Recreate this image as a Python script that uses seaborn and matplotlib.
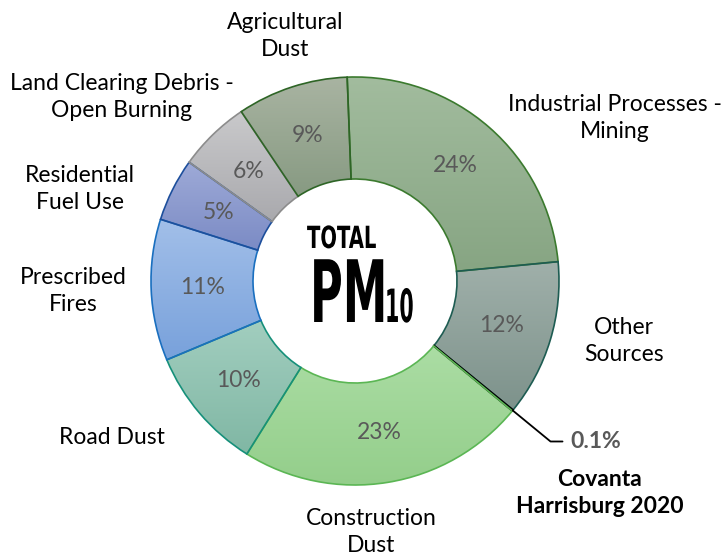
import matplotlib
matplotlib.use("Agg")
import matplotlib.pyplot as plt
import numpy as np
import seaborn as sns
from matplotlib.colors import LinearSegmentedColormap
from matplotlib.patheffects import AbstractPathEffect
from matplotlib.transforms import Affine2D

# --- data -------------------------------------------------------------------
sources = [
    "Industrial Processes -\nMining",
    "Other\nSources",
    "Covanta\nHarrisburg 2020",
    "Construction\nDust",
    "Road Dust",
    "Prescribed\nFires",
    "Residential\nFuel Use",
    "Land Clearing Debris -\nOpen Burning",
    "Agricultural\nDust",
]
shares = [24.1, 12.4, 0.1, 22.9, 9.8, 11.2, 5.0, 5.7, 8.8]

top_colors = ["#a2bc9e", "#a0b0aa", "#000000", "#abdda4", "#a2cebf",
              "#a2bfe9", "#9eaad7", "#c9c9cb", "#a9b4a2"]
bottom_colors = ["#87a583", "#7d928b", "#000000", "#94ce8b", "#80b7a4",
                 "#78a1db", "#7b8bc5", "#a9a9ad", "#879a82"]
edge_colors = ["#3b7a2e", "#1d5c52", "#000000", "#5bb654", "#16907a",
               "#1a6fbf", "#1d4f9c", "#8c8c8c", "#2e6526"]


class Condense(AbstractPathEffect):
    """Squeeze text horizontally about its anchor (no condensed font installed)."""

    def __init__(self, sx):
        super().__init__()
        self.sx = sx

    def draw_path(self, renderer, gc, tpath, affine, rgbFace=None):
        tx, ty = affine.transform((0, 0))
        squeeze = Affine2D().translate(-tx, -ty).scale(self.sx, 1).translate(tx, ty)
        renderer.draw_path(gc, tpath, affine + squeeze, rgbFace)


sns.set_theme(style="white")
plt.rcParams["font.family"] = ["Lato", "DejaVu Sans"]

fig = plt.figure(figsize=(7.26, 5.58), dpi=100)
ax = fig.add_axes([0, 0, 1, 1])

cx, cy, R = 355, 277, 204
wedges, _ = ax.pie(
    shares, center=(cx, cy), radius=R, startangle=92.2, counterclock=False,
    colors=["none"] * len(shares),
    wedgeprops=dict(width=R * 0.5, linewidth=1.2, zorder=3),
)

grad = np.linspace(0, 1, 256).reshape(-1, 1)
for w, top, bot, ec in zip(wedges, top_colors, bottom_colors, edge_colors):
    w.set_edgecolor(ec)
    ext = w.get_path().get_extents()
    cmap = LinearSegmentedColormap.from_list("g", [top, bot])
    im = ax.imshow(grad, cmap=cmap, extent=[ext.x0, ext.x1, ext.y0, ext.y1],
                   origin="upper", aspect="auto", zorder=2, interpolation="bilinear")
    im.set_clip_path(w)

# percentage labels inside the ring
for w, v in zip(wedges, shares):
    if v < 1:
        continue
    a = np.deg2rad((w.theta1 + w.theta2) / 2)
    ax.text(cx + 0.75 * R * np.cos(a), cy + 0.75 * R * np.sin(a), f"{v:.0f}%",
            ha="center", va="center", fontsize=16.5, color="#595959", zorder=4)

# category labels
lab_kw = dict(ha="center", va="center", fontsize=16.5, color="black", linespacing=1.3)
ax.text(615, 440, sources[0], **lab_kw)
ax.text(624, 217, sources[1], **lab_kw)
ax.text(371, 26, sources[3], **lab_kw)
ax.text(112, 121, sources[4], **lab_kw)
ax.text(73, 267, sources[5], **lab_kw)
ax.text(80, 369, sources[6], **lab_kw)
ax.text(122, 461, sources[7], **lab_kw)
ax.text(285, 522, sources[8], **lab_kw)

# Covanta call-out
cov = wedges[2]
a = np.deg2rad((cov.theta1 + cov.theta2) / 2)
p0 = (cx + R * np.cos(a), cy + R * np.sin(a))
p1 = (cx + 1.24 * R * np.cos(a), cy + 1.24 * R * np.sin(a))
ax.plot([p0[0], p1[0], p1[0] + 12], [p0[1], p1[1], p1[1]], color="black", lw=1.3, zorder=4)
ax.text(p1[0] + 20, p1[1], f"{shares[2]:.1f}%", ha="left", va="center",
        fontsize=16.5, fontweight="bold", color="#595959")
ax.text(600, 65, sources[2], ha="center", va="center", fontsize=16.5,
        fontweight="bold", color="black", linespacing=1.3)

# centre title
ctr = dict(family="DejaVu Sans", fontweight="bold", color="black",
           ha="left", va="baseline")
ax.text(307, 558 - 248, "TOTAL", fontsize=22, path_effects=[Condense(0.64)], **ctr)
ax.text(310, 558 - 322, "PM", fontsize=62, path_effects=[Condense(0.52)], **ctr)
ax.text(385, 558 - 322, "10", fontsize=33, path_effects=[Condense(0.45)], **ctr)

ax.set_xlim(0, 726)
ax.set_ylim(0, 558)
ax.set_aspect("equal")
ax.axis("off")

fig.savefig("out.png", dpi=100)
